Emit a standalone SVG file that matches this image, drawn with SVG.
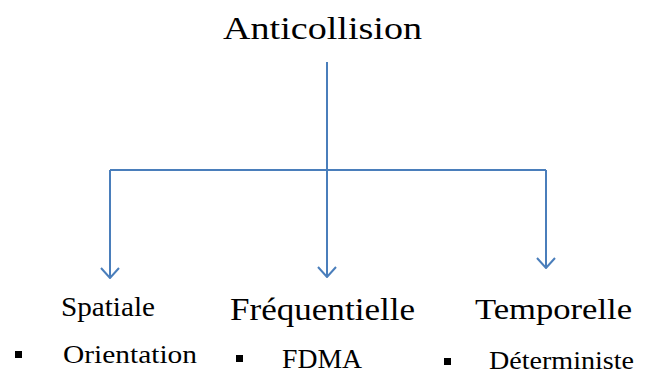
<svg xmlns="http://www.w3.org/2000/svg" width="649" height="376" viewBox="0 0 649 376">
  <defs>
    <!-- open V arrowhead, drawn along the path direction -->
    <marker id="arrow" viewBox="0 0 12 20" refX="11" refY="10" markerWidth="12" markerHeight="20" markerUnits="userSpaceOnUse" orient="auto">
      <path d="M1,1 L11,10 L1,19" fill="none" stroke="#4a7ebb" stroke-width="2"/>
    </marker>
  </defs>
  <style>
    .lbl { font-family: "Liberation Serif", "Times New Roman", serif; fill: #000; }
    .conn { fill: none; stroke: #4a7ebb; stroke-width: 2; }
    .bullet { fill: #000; }
  </style>
  <rect width="649" height="376" fill="#fff"/>

  <g id="connectors">
    <path class="conn" d="M327,62 V170"/>
    <path class="conn" d="M110,170 H546"/>
    <path class="conn" d="M110,170 V278" marker-end="url(#arrow)"/>
    <path class="conn" d="M327,170 V277" marker-end="url(#arrow)"/>
    <path class="conn" d="M546,170 V268" marker-end="url(#arrow)"/>
  </g>

  <g id="root">
    <text class="lbl" x="223" y="39" font-size="32" textLength="199" lengthAdjust="spacingAndGlyphs">Anticollision</text>
  </g>

  <g id="spatiale">
    <text class="lbl" x="61" y="316" font-size="27" textLength="94" lengthAdjust="spacingAndGlyphs">Spatiale</text>
    <rect class="bullet" x="15" y="351" width="7" height="7"/>
    <text class="lbl" x="63" y="363" font-size="25" textLength="134" lengthAdjust="spacingAndGlyphs">Orientation</text>
  </g>

  <g id="frequentielle">
    <text class="lbl" x="230" y="320" font-size="31" textLength="185" lengthAdjust="spacingAndGlyphs">Fréquentielle</text>
    <rect class="bullet" x="236" y="355" width="7" height="7"/>
    <text class="lbl" x="282" y="368" font-size="27" textLength="80" lengthAdjust="spacingAndGlyphs">FDMA</text>
  </g>

  <g id="temporelle">
    <text class="lbl" x="475" y="319" font-size="30" textLength="157" lengthAdjust="spacingAndGlyphs">Temporelle</text>
    <rect class="bullet" x="444" y="358" width="7" height="7"/>
    <text class="lbl" x="489" y="369" font-size="25" textLength="145" lengthAdjust="spacingAndGlyphs">Déterministe</text>
  </g>
</svg>
